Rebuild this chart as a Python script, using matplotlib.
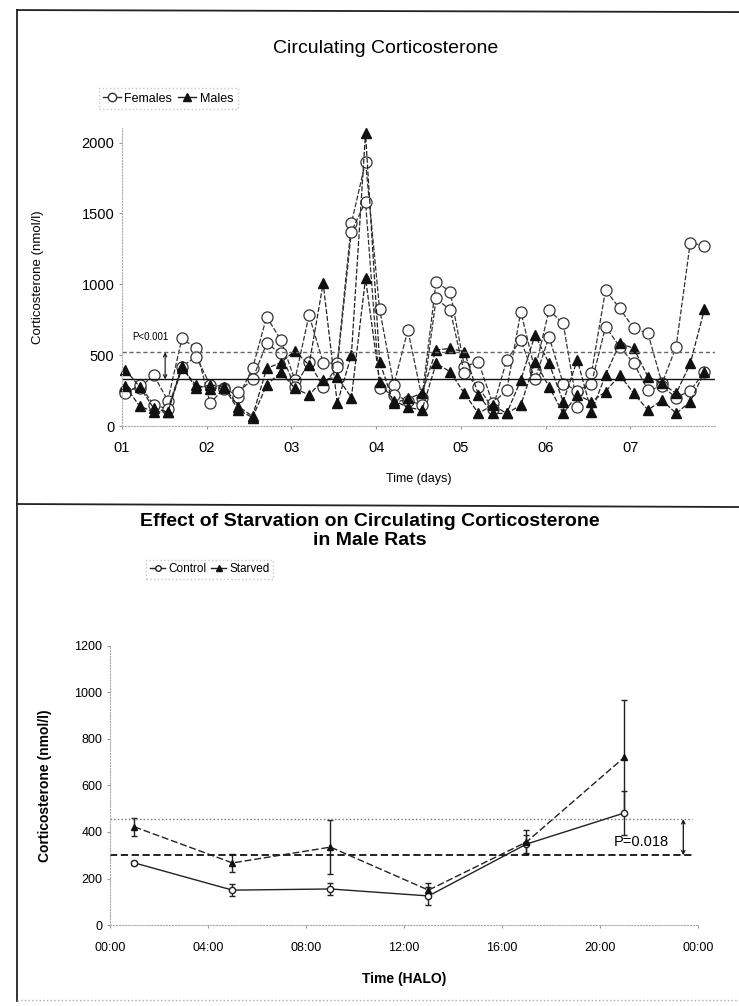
import matplotlib
matplotlib.use("Agg")
import matplotlib.pyplot as plt
from matplotlib.lines import Line2D

plt.rcParams['font.family'] = ['Liberation Sans', 'DejaVu Sans']

# ---- top panel data: one sample every 4 h (01:00, 05:00, ...) over 7 days
sample_idx = list(range(42))
females_a = [250, 270, 360, 180, 619, 548, 160, 270, 207, 407,
             771, 607, 325, 783, 447, 442, 1430, 1865, 823, 289,
             677, 200, 1018, 948, 419, 454, 160, 254, 807, 395,
             818, 724, 136, 372, 960, 830, 689, 654, 301, 560,
             1294, 1270]
females_b = [230, 290, 150, 120, 420, 490, 290, 260, 240, 330,
             583, 513, 278, 450, 278, 420, 1371, 1583, 266, 220,
             180, 150, 900, 818, 372, 278, 120, 466, 607, 330,
             630, 300, 250, 300, 701, 560, 442, 254, 280, 200,
             250, 380]
males_a = [395, 278, 125, 100, 423, 266, 290, 278, 136, 70,
           407, 447, 531, 430, 1007, 160, 501, 2065, 454, 160,
           195, 230, 536, 548, 524, 219, 89, 89, 325, 642,
           442, 172, 466, 101, 360, 583, 548, 348, 301, 230,
           442, 823]
males_b = [280, 141, 100, 100, 407, 290, 260, 270, 113, 60,
           290, 380, 266, 219, 325, 348, 200, 1042, 313, 180,
           132, 113, 442, 383, 230, 89, 148, 89, 148, 454,
           278, 89, 219, 172, 242, 360, 230, 113, 183, 89,
           172, 383]
day_labels = ["01", "02", "03", "04", "05", "06", "07"]
top_hi, top_lo = 520, 330

# ---- bottom panel data
halo_hours = [1, 5, 9, 13, 17, 21]
control = [267, 150, 155, 125, 348, 482]
control_err = [10, 25, 25, 40, 40, 95]
starved = [422, 267, 335, 150, 357, 722]
starved_err = [40, 40, 115, 30, 50, 245]
halo_labels = ["00:00", "04:00", "08:00", "12:00", "16:00", "20:00", "00:00"]
bot_hi, bot_lo = 455, 300

days = [1 + (1 + 4 * i) / 24 for i in sample_idx]

fig = plt.figure(figsize=(7.39, 10.06), dpi=100)

# scanned page frame
for seg in [([0.023, 0.023], [0.99, 0.005]), ([0.023, 1.0], [0.99, 0.988]),
            ([0.023, 1.0], [0.499, 0.496])]:
    fig.add_artist(Line2D(seg[0], seg[1], color="#222", lw=1.3, transform=fig.transFigure))
fig.add_artist(Line2D([0.023, 1.0], [0.006, 0.006], color="#aaa", lw=1, ls=":",
                      transform=fig.transFigure))

ls = (0, (4, 1.5))

# ================= top panel =================
ax1 = fig.add_axes([0.165, 0.5765, 0.8025, 0.2959])
for vals in (females_a, females_b):
    ax1.plot(days, vals, ls=ls, color="#333", lw=0.9, marker="o", ms=8,
             mfc="white", mec="#333", mew=0.9, clip_on=False)
for vals in (males_a, males_b):
    ax1.plot(days, vals, ls=ls, color="#222", lw=0.9, marker="^", ms=7.5,
             mfc="#111", mec="#111", clip_on=False)
ax1.axhline(top_hi, color="#666", lw=1, ls=(0, (3, 2)))
ax1.axhline(top_lo, color="#111", lw=1)
ax1.annotate("", xy=(1.51, top_hi), xytext=(1.51, top_lo),
             arrowprops=dict(arrowstyle="<->", lw=0.8, color="#111",
                             shrinkA=0, shrinkB=0, mutation_scale=6))
ax1.text(1.34, 625, "P<0.001", fontsize=7, ha="center", va="center")

ax1.set_xlim(1, 8)
ax1.set_ylim(0, 2100)
ax1.set_xticks(range(1, 8))
ax1.set_xticklabels(day_labels)
ax1.set_yticks(range(0, 2001, 500))
ax1.tick_params(labelsize=10.5, length=2, color="#999")
ax1.tick_params(axis="x", pad=9)
for s in ("top", "right"):
    ax1.spines[s].set_visible(False)
for s in ("left", "bottom"):
    ax1.spines[s].set_linestyle(":")
    ax1.spines[s].set_color("#aaa")
ax1.set_xlabel("Time (days)", fontsize=9, labelpad=13)
ax1.set_ylabel("Corticosterone (nmol/l)", fontsize=9.5, labelpad=27)

fig.text(0.522, 0.952, "Circulating Corticosterone", fontsize=14,
         ha="center", va="center")
h_f = Line2D([], [], color="#333", lw=1, marker="o", ms=6, mfc="white", mec="#333")
h_m = Line2D([], [], color="#222", lw=1, marker="^", ms=6, mfc="#111", mec="#111")
leg1 = fig.legend([h_f, h_m], ["Females", "Males"], loc="center left",
                  bbox_to_anchor=(0.125, 0.902), ncol=2, fontsize=9,
                  handlelength=1.4, handletextpad=0.3, columnspacing=0.5,
                  frameon=True, borderpad=0.35, fancybox=False)
leg1.get_frame().set_edgecolor("#bbb")
leg1.get_frame().set_linestyle(":")

# ================= bottom panel =================
ax2 = fig.add_axes([0.1488, 0.0805, 0.7957, 0.2774])
ax2.errorbar(halo_hours, control, yerr=control_err, color="#222", lw=1,
             marker="o", ms=4.5, mfc="white", mec="#222", capsize=2.5,
             elinewidth=1, ls="-")
ax2.errorbar(halo_hours, starved, yerr=starved_err, color="#222", lw=1,
             marker="^", ms=5, mfc="#111", mec="#111", capsize=2.5,
             elinewidth=1, ls=(0, (5, 2)))
ax2.axhline(bot_hi, xmax=0.99, color="#777", lw=1, ls=":")
ax2.axhline(bot_lo, xmax=0.99, color="#111", lw=1.3, ls=(0, (4, 2)))
ax2.annotate("", xy=(23.4, bot_hi), xytext=(23.4, bot_lo),
             arrowprops=dict(arrowstyle="<->", lw=0.9, color="#111",
                             shrinkA=0, shrinkB=0, mutation_scale=6))
ax2.text(21.7, 355, "P=0.018", fontsize=10.5, ha="center", va="center")

ax2.set_xlim(0, 24)
ax2.set_ylim(0, 1200)
ax2.set_xticks(range(0, 25, 4))
ax2.set_xticklabels(halo_labels)
ax2.set_yticks(range(0, 1201, 200))
ax2.tick_params(labelsize=9, length=2, color="#999")
ax2.tick_params(axis="x", pad=10)
for s in ("top", "right"):
    ax2.spines[s].set_visible(False)
for s in ("left", "bottom"):
    ax2.spines[s].set_linestyle(":")
    ax2.spines[s].set_color("#aaa")
ax2.set_xlabel("Time (HALO)", fontsize=10, fontweight="bold", labelpad=13)
ax2.set_ylabel("Corticosterone (nmol/l)", fontsize=10, fontweight="bold", labelpad=16)

fig.text(0.5, 0.472, "Effect of Starvation on Circulating Corticosterone\nin Male Rats",
         fontsize=14, fontweight="bold", ha="center", va="center", linespacing=1.12)
h_c = Line2D([], [], color="#222", lw=1, marker="o", ms=4, mfc="white", mec="#222")
h_s = Line2D([], [], color="#222", lw=1, marker="^", ms=5, mfc="#111", mec="#111")
leg2 = fig.legend([h_c, h_s], ["Control", "Starved"], loc="center left",
                  bbox_to_anchor=(0.19, 0.434), ncol=2, fontsize=8.5,
                  handlelength=1.3, handletextpad=0.25, columnspacing=0.4,
                  frameon=True, borderpad=0.3, fancybox=False)
leg2.get_frame().set_edgecolor("#bbb")
leg2.get_frame().set_linestyle(":")

fig.savefig("out.png", dpi=100)
